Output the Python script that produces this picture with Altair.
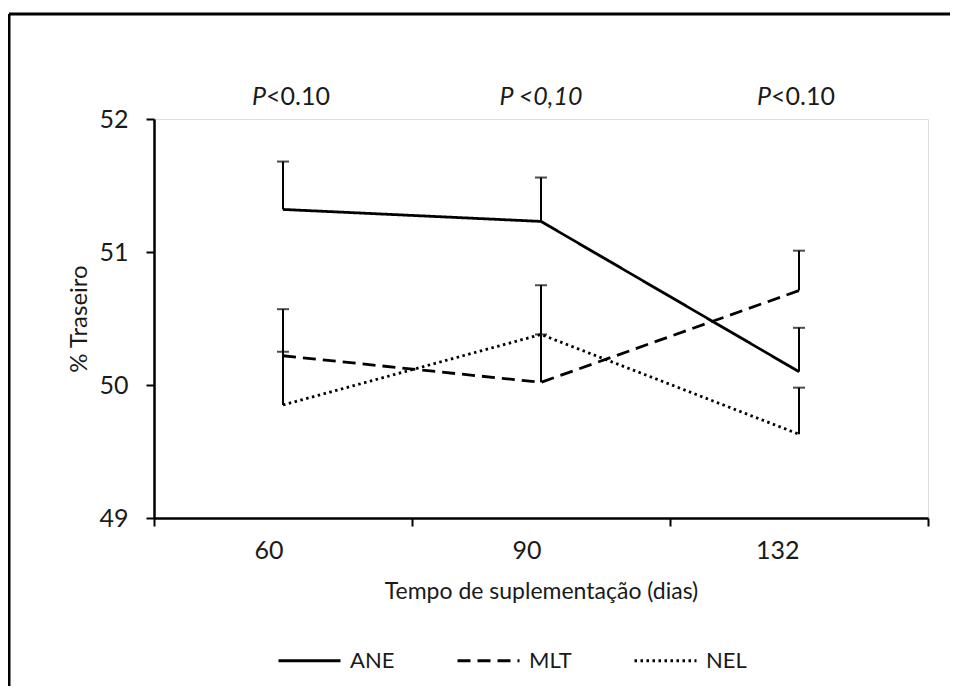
import altair as alt
import pandas as pd

# ---- data ----
dias = ["60", "90", "132"]
ane = [51.32, 51.23, 50.10]
ane_top = [51.68, 51.56, 50.43]
mlt = [50.22, 50.02, 50.71]
mlt_top = [50.57, 50.38, 51.01]
nel = [49.85, 50.38, 49.63]
nel_top = [50.25, 50.75, 49.98]
grupos = ["ANE", "MLT", "NEL"]
y_ticks = [49, 50, 51, 52]
ann_dias = ["60", "90", "132"]
ann_italic = ["P", "P <0,10", "P"]
ann_rest = ["<0.10", "", "<0.10"]

FONT = "Lato"
TXT = "#1a1a1a"
rows = []
for g, vals, tops in zip(grupos, [ane, mlt, nel], [ane_top, mlt_top, nel_top]):
    for d, v, t in zip(dias, vals, tops):
        rows.append({"dias": d, "grupo": g, "valor": v, "topo": t})
df = pd.DataFrame(rows)

W, H = 774, 399
PADL, PADT = 146, 111

x_enc = alt.X("dias:N", sort=dias,
              scale=alt.Scale(type="band", domain=dias, paddingInner=0, paddingOuter=0),
              axis=alt.Axis(title="Tempo de suplementação (dias)", labelAngle=0,
                            tickBand="extent", labelPadding=24, titlePadding=17,
                            titleFontSize=23))
y_scale = alt.Scale(domain=[49, 52], nice=False, zero=False)
y_axis = alt.Axis(title="% Traseiro", values=y_ticks, format="d",
                  labelPadding=18, titlePadding=7, titleFontSize=24)

dash_scale = alt.Scale(domain=grupos, range=[[1, 0], [13, 7], [2.5, 3.5]])

lines = alt.Chart(df).mark_line(color="black", strokeWidth=2.8).encode(
    x=x_enc,
    y=alt.Y("valor:Q", scale=y_scale, axis=y_axis),
    strokeDash=alt.StrokeDash("grupo:N", scale=dash_scale,
                              legend=alt.Legend(title=None, orient="none", direction="horizontal",
                                                legendX=123, legendY=H + 110,
                                                symbolType="stroke", symbolSize=3844,
                                                symbolStrokeWidth=2.8, symbolStrokeColor="black",
                                                labelFontSize=22, labelFont=FONT, labelColor=TXT,
                                                columnPadding=56, labelOffset=8)),
    detail="grupo:N",
)

err = alt.Chart(df).mark_rule(color="black", strokeWidth=2).encode(
    x=alt.X("dias:N", sort=dias), y=alt.Y("valor:Q", scale=y_scale, axis=y_axis), y2="topo:Q")
caps = alt.Chart(df).mark_tick(color="black", thickness=2, size=12).encode(
    x=alt.X("dias:N", sort=dias), y=alt.Y("topo:Q", scale=y_scale, axis=y_axis))

ann_df = pd.DataFrame({"dias": ann_dias, "it": ann_italic, "rest": ann_rest})
def ann_layer(i, dx_it, align_it, dx_rest):
    sub = ann_df.iloc[[i]]
    base = alt.Chart(sub)
    a = base.mark_text(font=FONT, fontSize=25, fontStyle="italic", color=TXT,
                       align=align_it, dx=dx_it, baseline="middle").encode(
        x=alt.X("dias:N", sort=dias), y=alt.value(-22), text="it:N")
    layers = [a]
    if ann_rest[i]:
        b = base.mark_text(font=FONT, fontSize=25, color=TXT, align="left",
                           dx=dx_rest, baseline="middle").encode(
            x=alt.X("dias:N", sort=dias), y=alt.value(-22), text="rest:N")
        layers.append(b)
    return layers

ann = ann_layer(0, -17, "right", -17) + ann_layer(1, 0, "center", 0) + ann_layer(2, -28, "right", -28)

frame_src = alt.Chart(alt.Data(values=[{}]))
frame_top = frame_src.mark_rule(color="black", strokeWidth=3).encode(
    x=alt.value(-PADL + 1), x2=alt.value(W + 100), y=alt.value(-PADT + 6))
frame_left = frame_src.mark_rule(color="black", strokeWidth=3).encode(
    x=alt.value(-PADL + 1), y=alt.value(-PADT + 6), y2=alt.value(H + 300))

chart = alt.layer(frame_top, frame_left, err, caps, lines, *ann).properties(
    width=W, height=H,
    autosize=alt.AutoSizeParams(type="none"),
    padding={"left": PADL, "top": PADT, "right": 22, "bottom": 168},
).configure_view(stroke=None).configure(background="white").configure_axis(
    domainColor="black", domainWidth=2.5, tickColor="black", tickWidth=2, tickSize=8,
    labelFontSize=25, labelColor=TXT, labelFont=FONT, titleFont=FONT,
    titleFontWeight="normal", titleColor=TXT, grid=False)

chart.save("out.html", embed_options={"renderer": "svg", "actions": False})
